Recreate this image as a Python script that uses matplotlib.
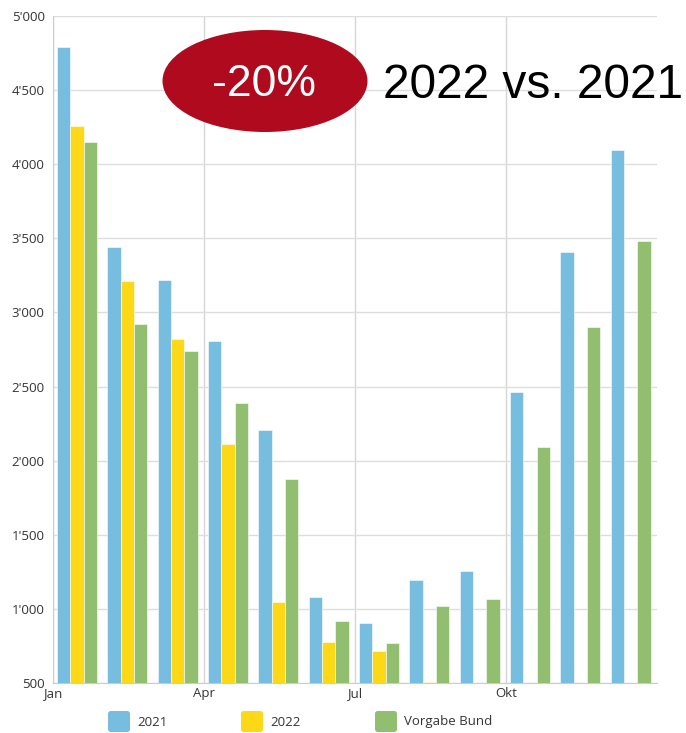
import matplotlib
matplotlib.use("Agg")
import matplotlib.pyplot as plt
import matplotlib.patches as mpatches
import numpy as np

# Monthly values
months = ["Jan", "Feb", "Mär", "Apr", "Mai", "Jun", "Jul", "Aug", "Sep", "Okt", "Nov", "Dez"]
values_2021 = [4790, 3440, 3220, 2810, 2205, 1080, 905, 1195, 1255, 2460, 3410, 4095]
values_2022 = [4260, 3210, 2820, 2110, 1045, 775, 715, 510, None, None, None, None]
values_bund = [4150, 2925, 2740, 2390, 1875, 918, 770, 1020, 1065, 2090, 2905, 3480]
series_names = ["2021", "2022", "Vorgabe Bund"]

xtick_pos = [0, 3, 6, 9]
xtick_labels = ["Jan", "Apr", "Jul", "Okt"]
ytick_vals = [500, 1000, 1500, 2000, 2500, 3000, 3500, 4000, 4500, 5000]
ytick_labels = ["500", "1'000", "1'500", "2'000", "2'500", "3'000", "3'500", "4'000", "4'500", "5'000"]

colors = {
    "2021": "#77BDE0",
    "2022": "#FDD817",
    "Vorgabe Bund": "#92BE6F",
}

fig = plt.figure(figsize=(6.86, 7.33), dpi=100)
ax = fig.add_axes([53 / 686, 50 / 733, 604 / 686, 667 / 733])

x = np.arange(len(months))
width = 0.265
offsets = [0.08, 0.345, 0.61]
all_series = [values_2021, values_2022, values_bund]

for name, vals, off in zip(series_names, all_series, offsets):
    xs = [xi + off for xi, v in zip(x, vals) if v is not None]
    heights = [v - 500 for v in vals if v is not None]
    ax.bar(xs, heights, width=width, bottom=500, align="edge",
           color=colors[name], edgecolor="white", linewidth=0.4, zorder=3)

ax.set_xlim(0, 12)
ax.set_ylim(500, 5000)

ax.set_yticks(ytick_vals)
ax.set_yticklabels(ytick_labels)
ax.set_xticks(xtick_pos)
ax.set_xticklabels(xtick_labels)

ax.grid(axis="y", color="#DDDDDD", linewidth=1, zorder=0)
ax.grid(axis="x", color="#D6D6D6", linewidth=1, zorder=0)
ax.tick_params(axis="both", length=0, labelsize=9.5, colors="#333333")
ax.tick_params(axis="y", pad=6)
ax.tick_params(axis="x", pad=3)
for lbl in ax.get_xticklabels() + ax.get_yticklabels():
    lbl.set_fontfamily("Open Sans")

for side in ["top", "right"]:
    ax.spines[side].set_visible(False)
ax.spines["left"].set_color("#CCCCCC")
ax.spines["bottom"].set_color("#CCCCCC")

# Red bubble with -20% and headline text
ell = mpatches.Ellipse((265 / 686, 1 - 81 / 733), 205 / 686, 102 / 733,
                       transform=fig.transFigure, facecolor="#B00A1E",
                       edgecolor="none", zorder=10)
fig.patches.append(ell)
fig.text(264 / 686, 1 - 84 / 733, "-20%", ha="center", va="center",
         color="white", fontsize=32, family="Liberation Sans", zorder=11)
fig.text(383 / 686, 1 - 86 / 733, "2022 vs. 2021", ha="left", va="center",
         color="black", fontsize=34.5, family="Liberation Sans", zorder=11)

# Legend drawn below the axes
legend_x = [108, 241, 375]
for name, lx in zip(series_names, legend_x):
    box = mpatches.FancyBboxPatch((lx / 686, 1 - 732 / 733), 22 / 686, 21 / 733,
                                  boxstyle="round,pad=0,rounding_size=0.004",
                                  transform=fig.transFigure,
                                  facecolor=colors[name], edgecolor="none")
    fig.patches.append(box)
    fig.text((lx + 29) / 686, 1 - 722 / 733, name, ha="left", va="center",
             fontsize=9.5, color="#333333", family="Open Sans")

plt.savefig("out.png", dpi=100)
